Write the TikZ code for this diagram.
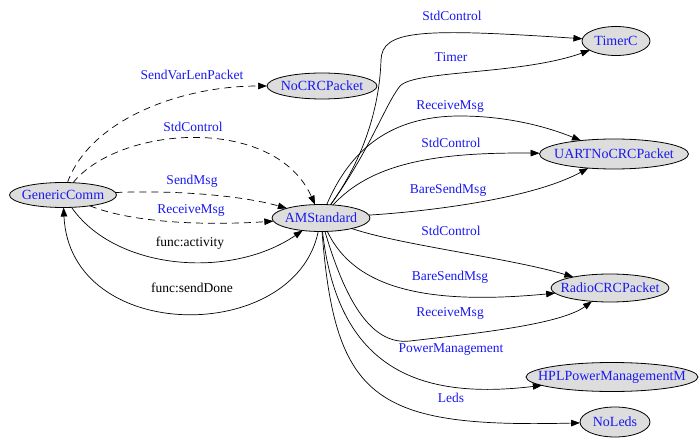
\documentclass[tikz,border=0pt]{standalone}
\usepackage{fontspec}
\setmainfont{Liberation Serif}
\usepackage{xcolor}
\usepackage{tikz}
\usetikzlibrary{shapes.geometric, arrows.meta}

\definecolor{compblue}{RGB}{25,25,240}
\definecolor{compgray}{RGB}{221,221,221}

\begin{document}
\begin{tikzpicture}[
    x=1pt, y=-1pt,
    comp/.style={ellipse, draw, fill=compgray, text=compblue, inner sep=0pt, outer sep=0pt, line width=0.8pt, font=\fontsize{14}{16}\selectfont},
    lbl/.style={text=compblue, inner sep=0pt, font=\fontsize{13.5}{15}\selectfont},
    funclbl/.style={lbl, text=black},
    relation/.style={-{Triangle[length=9pt, width=6.5pt]}, line width=0.7pt},
    dashrel/.style={relation, dash pattern=on 7pt off 5pt}
]
\useasboundingbox (0,0) rectangle (699,441);

% Components
\node[comp, minimum width=107pt, minimum height=25pt] (gc) at (63,195) {\makebox[0pt]{GenericComm}};
\node[comp, minimum width=110pt, minimum height=26pt] (nocrc) at (322,86) {\makebox[0pt]{NoCRCPacket}};
\node[comp, minimum width=98pt, minimum height=27pt] (ams) at (321,218) {\makebox[0pt]{AMStandard}};
\node[comp, minimum width=68pt, minimum height=29pt] (timer) at (616,41) {\makebox[0pt]{TimerC}};
\node[comp, minimum width=149pt, minimum height=30pt] (uart) at (614,154) {\makebox[0pt]{UARTNoCRCPacket}};
\node[comp, minimum width=118pt, minimum height=28pt] (radio) at (610,288) {\makebox[0pt]{RadioCRCPacket}};
\node[comp, minimum width=172pt, minimum height=29pt] (hpl) at (612,377) {\makebox[0pt]{HPLPowerManagementM}};
\node[comp, minimum width=70pt, minimum height=30pt] (noleds) at (615,422) {\makebox[0pt]{NoLeds}};

% Labels
\node[lbl] (l-sendvar) at (192,75) {SendVarLenPacket};
\node[lbl] (l-gcstd) at (193,127) {StdControl};
\node[lbl] (l-sendmsg) at (192,181) {SendMsg};
\node[lbl] (l-gcrecv) at (191,210) {ReceiveMsg};
\node[funclbl] (l-activity) at (190,243) {func:activity};
\node[funclbl] (l-senddone) at (192,288) {func:sendDone};
\node[lbl] (l-timerstd) at (452,16) {StdControl};
\node[lbl] (l-timer) at (451,57) {Timer};
\node[lbl] (l-uartrecv) at (450,106) {ReceiveMsg};
\node[lbl] (l-uartstd) at (451,143) {StdControl};
\node[lbl] (l-uartbare) at (448,190) {BareSendMsg};
\node[lbl] (l-radiostd) at (451,231) {StdControl};
\node[lbl] (l-radiobare) at (450,277) {BareSendMsg};
\node[lbl] (l-radiorecv) at (450,313) {ReceiveMsg};
\node[lbl] (l-power) at (451,350) {PowerManagement};
\node[lbl] (l-leds) at (451,398) {Leds};

% Relations
\draw[dashrel] (gc) .. controls (90,120) and (180,86) .. (nocrc);
\draw[dashrel] (gc) .. controls (120,125) and (275,115) .. (ams);
\draw[dashrel] (gc) .. controls (170,190) and (240,195) .. (ams);
\draw[dashrel] (gc) .. controls (130,222) and (200,226) .. (ams);
\draw[relation] (gc) .. controls (115,270) and (230,280) .. (ams);
\draw[relation] (ams) .. controls (295,345) and (70,345) .. (gc);

\draw[relation] (ams) .. controls (370,150) and (380,95) .. (381,60) .. controls (382,30) and (420,28) .. (timer);
\draw[relation] (ams) .. controls (370,150) and (385,105) .. (400,86) .. controls (415,70) and (520,75) .. (timer);
\draw[relation] (ams) .. controls (350,150) and (390,116) .. (460,116) .. controls (510,116) and (550,128) .. (uart);
\draw[relation] (ams) .. controls (370,165) and (430,152) .. (uart);
\draw[relation] (ams) .. controls (420,212) and (530,200) .. (uart);
\draw[relation] (ams) .. controls (400,245) and (510,258) .. (radio);
\draw[relation] (ams) .. controls (355,290) and (430,305) .. (radio);
\draw[relation] (ams) .. controls (348,310) and (375,345) .. (410,341) .. controls (470,334) and (560,325) .. (radio);
\draw[relation] (ams) .. controls (338,370) and (420,400) .. (hpl);
\draw[relation] (ams) .. controls (335,400) and (375,428) .. (noleds);

\end{tikzpicture}
\end{document}
